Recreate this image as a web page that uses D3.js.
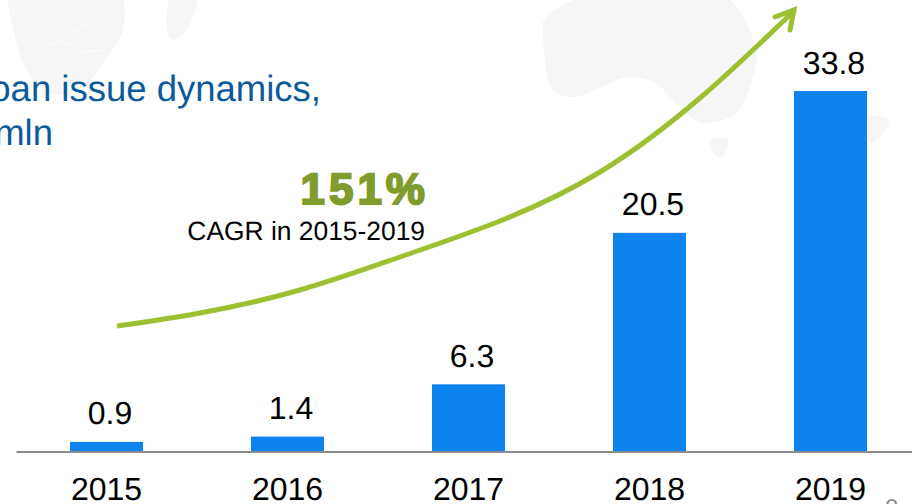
<!DOCTYPE html>
<html><head><meta charset="utf-8">
<script src="https://cdn.jsdelivr.net/npm/d3@7"></script>
<style>html,body{margin:0;padding:0;background:#fff;overflow:hidden}svg{display:block}text{font-family:"Liberation Sans",Arial,sans-serif;font-kerning:none;text-rendering:geometricPrecision}</style>
</head><body><div id="c"></div>
<script>
const years = ["2015","2016","2017","2018","2019"];
const values = [0.9,1.4,6.3,20.5,33.8];
const valueLabels = ["0.9","1.4","6.3","20.5","33.8"];
const titleLines = ["Loan issue dynamics,","mln"];
const cagrValue = "151%";
const cagrText = "CAGR in 2015-2019";
const pageNumber = "8";
const trendX = [117,200,300,400,500,600,700,795];
const trendY = [326,313,290,257,221,172,98,10];

const W=912,H=504,base=451.5;
const svg=d3.select("#c").append("svg").attr("width",W).attr("height",H);

// faint background map
const bg=svg.append("g").attr("fill","#f6f6f6").attr("stroke","none");
const blob=d3.line().curve(d3.curveCatmullRomClosed.alpha(0.5));
const africa=[[12,-10],[15,37],[25,67],[38,85],[57,95],[72,92],[87,83],[107,57],[123,30],[118,-10]];
const madagascar=[[173,-5],[166,23],[172,39],[183,35],[197,-5]];
const australia=[[589,-5],[544,20],[543,33],[553,90],[573,97],[629,77],[656,83],[668,95],[686,113],[703,123],[736,113],[753,77],[756,50],[723,-5]];
const tasmania=[[711,140],[728,140],[722,157],[715,155]];
const nz=[[869,117],[889,120],[873,143],[868,140]];
[africa,madagascar,australia,tasmania,nz].forEach(d=>bg.append("path").attr("d",blob(d)));
bg.append("path").attr("d","M40,50 L60,40 L90,22 L105,35 M60,40 L85,52 L108,50")
  .attr("fill","none").attr("stroke","#fff").attr("stroke-width",1);

const x=d3.scaleBand().domain(years).range([16,921]).paddingInner(108/181).paddingOuter(54/181);
const y=d3.scaleLinear().domain([0,33.8]).range([base,91]);

svg.selectAll("rect.bar").data(years).join("rect").attr("class","bar")
  .attr("x",d=>x(d)).attr("width",x.bandwidth())
  .attr("y",(d,i)=>y(values[i])).attr("height",(d,i)=>base-y(values[i]))
  .attr("fill","#0d83ee");

const axis=svg.append("g").attr("transform",`translate(0,${base})`)
  .call(d3.axisBottom(x).tickSize(0).tickPadding(23));
axis.select(".domain").attr("stroke","#8c8c8c").attr("stroke-width",2);
axis.selectAll("text").attr("font-size",32).attr("fill","#000")
  .attr("font-family","Liberation Sans").attr("dy",0).attr("y",48.5);

svg.selectAll("text.val").data(years).join("text").attr("class","val")
  .attr("x",d=>x(d)+x.bandwidth()/2+3.5)
  .attr("y",(d,i)=>y(values[i])-17.5)
  .attr("text-anchor","middle").attr("font-size",32).attr("fill","#000")
  .text((d,i)=>valueLabels[i]);

// title, clipped by the left edge
svg.append("text").attr("x",321).attr("y",101).attr("text-anchor","end")
  .attr("font-size",36.5).attr("fill","#0b5a9c").text(titleLines[0]);
svg.append("text").attr("x",53).attr("y",145).attr("text-anchor","end")
  .attr("font-size",36.5).attr("fill","#0b5a9c").text(titleLines[1]);

// trend arrow
const line=d3.line().x(d=>d[0]).y(d=>d[1]).curve(d3.curveNatural);
svg.append("path").datum(trendX.map((v,i)=>[v,trendY[i]])).attr("d",line)
  .attr("fill","none").attr("stroke","#9dc033").attr("stroke-width",5);
svg.append("path").attr("d","M775,17 L794,10 L790,30")
  .attr("fill","none").attr("stroke","#9dc033").attr("stroke-width",5)
  .attr("stroke-linecap","round").attr("stroke-linejoin","miter");

svg.append("text").attr("x",429).attr("y",204).attr("text-anchor","end")
  .attr("font-size",44).attr("font-weight","bold").attr("fill","#7f9c2c")
  .attr("stroke","#7f9c2c").attr("stroke-width",2).attr("letter-spacing",4).text(cagrValue);
svg.append("text").attr("x",425).attr("y",240).attr("text-anchor","end")
  .attr("font-size",26.4).attr("fill","#000").text(cagrText);

svg.append("text").attr("x",885).attr("y",516).attr("font-size",24).attr("fill","#8c8c8c").text(pageNumber);
</script></body></html>
